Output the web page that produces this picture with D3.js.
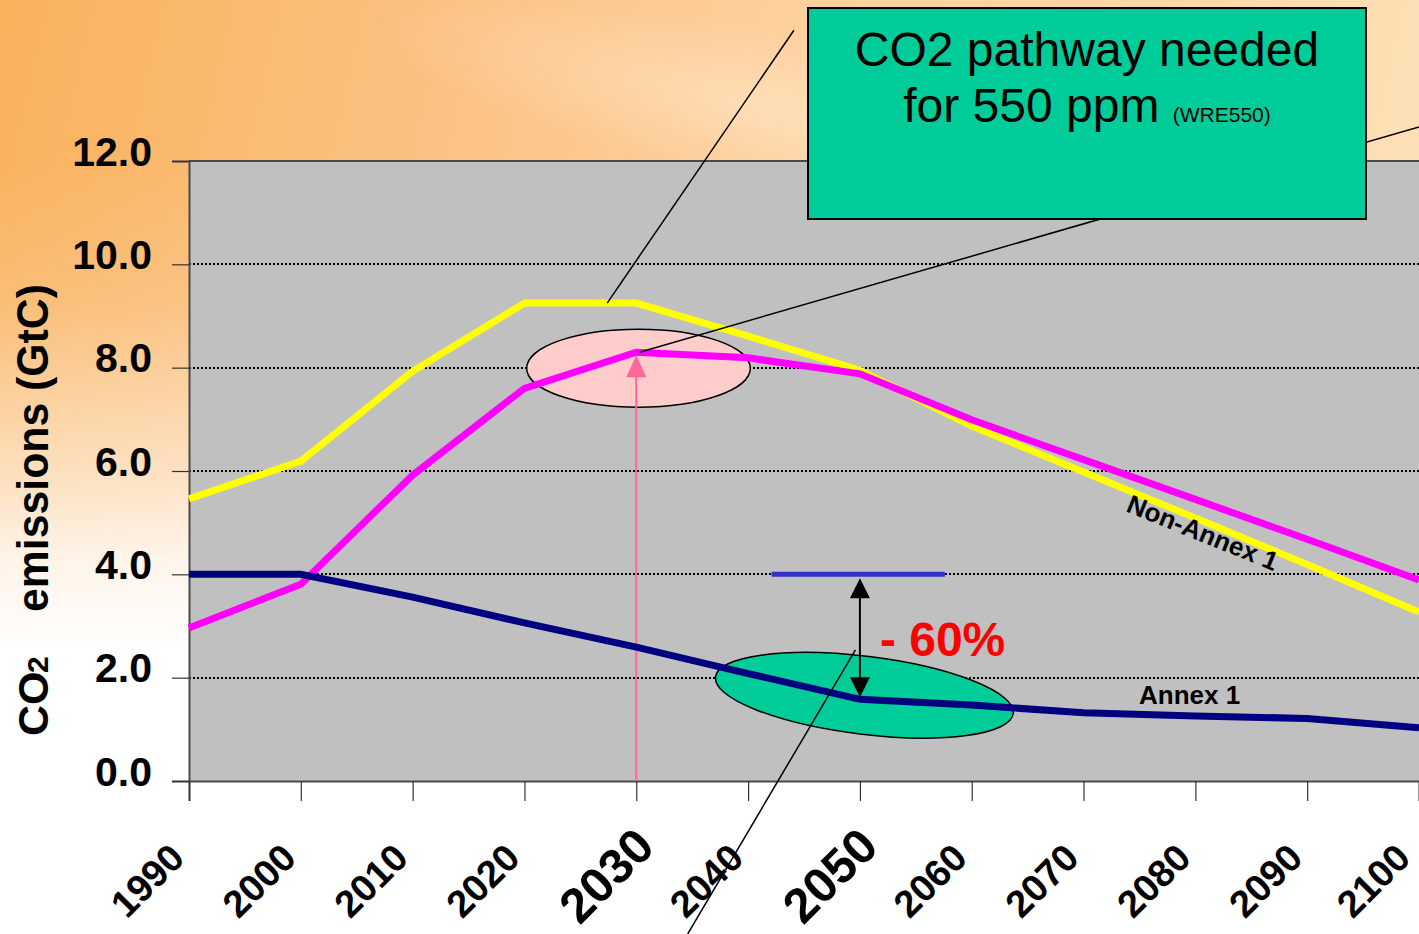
<!DOCTYPE html>
<html>
<head>
<meta charset="utf-8">
<script src="https://cdn.jsdelivr.net/npm/d3@7"></script>
<style>
  html, body { margin: 0; padding: 0; background: #ffffff; }
  svg { display: block; font-family: "Liberation Sans", Arial, sans-serif; }
</style>
</head>
<body>
<svg id="chart" width="1419" height="934"></svg>
<script>
// Years on the horizontal axis
const years = [1990, 2000, 2010, 2020, 2030, 2040, 2050, 2060, 2070, 2080, 2090, 2100];
// Tick labels drawn larger on the x axis
const bigYears = [2030, 2050];
// Vertical axis ticks (GtC)
const yTicks = [0, 2, 4, 6, 8, 10, 12];

// WRE550 non-Annex 1 allowance (yellow)
const wreNonAnnex1 = [5.46, 6.19, 7.93, 9.25, 9.25, 8.61, 7.95, 6.87, 5.98, 5.09, 4.19, 3.27];
// Non-Annex 1 emissions (magenta)
const nonAnnex1 = [2.96, 3.81, 5.92, 7.60, 8.30, 8.19, 7.88, 6.99, 6.22, 5.45, 4.68, 3.89];
// Annex 1 emissions (navy)
const annex1 = [4.00, 4.00, 3.56, 3.06, 2.59, 2.08, 1.58, 1.47, 1.32, 1.26, 1.21, 1.03];

// 1990 Annex 1 reference level and the span it is drawn over
const refLevel = 4.0;
const refSpan = [2042.1, 2057.6];
const reductionYear = 2050;
const peakYear = 2030;

const svg = d3.select("#chart");
const W = 1419, H = 934;
const plotL = 189, plotR = 1419, plotT = 161, plotB = 781;

const x = d3.scaleLinear().domain([1990, 2100]).range([plotL, plotR]);
const y = d3.scaleLinear().domain([0, 12]).range([plotB, plotT]);

// ---- background wash ----
const defs = svg.append("defs");
const hg = defs.append("linearGradient").attr("id", "warm").attr("x1", 0).attr("x2", 1).attr("y1", 0).attr("y2", 0.15);
[[0, "#f9b25c"], [0.3, "#fbc080"], [0.55, "#fdd09c"], [0.8, "#fdd7a8"], [1, "#fde0b6"]]
  .forEach(([o, c]) => hg.append("stop").attr("offset", o).attr("stop-color", c));
const vg = defs.append("linearGradient").attr("id", "fade").attr("x1", 0).attr("x2", 0).attr("y1", 0).attr("y2", 1);
[[0, 0], [0.18, 0], [0.32, 0.12], [0.43, 0.38], [0.52, 0.6], [0.6, 0.85], [0.7, 1], [1, 1]]
  .forEach(([o, a]) => vg.append("stop").attr("offset", o).attr("stop-color", "#ffffff").attr("stop-opacity", a));
const haze = defs.append("radialGradient").attr("id", "haze").attr("cx", 0.5).attr("cy", 0.5).attr("r", 0.5);
haze.append("stop").attr("offset", 0).attr("stop-color", "#fff2e0").attr("stop-opacity", 0.4);
haze.append("stop").attr("offset", 1).attr("stop-color", "#fff2e0").attr("stop-opacity", 0);

svg.append("rect").attr("width", W).attr("height", H).attr("fill", "url(#warm)");
svg.append("ellipse").attr("cx", 780).attr("cy", 110).attr("rx", 420).attr("ry", 80)
  .attr("transform", "rotate(12,780,110)").attr("fill", "url(#haze)");
svg.append("rect").attr("width", W).attr("height", H).attr("fill", "url(#fade)");

// ---- plot area ----
svg.append("rect").attr("x", plotL).attr("y", plotT).attr("width", plotR - plotL).attr("height", plotB - plotT)
  .attr("fill", "#c0c0c0");

// dotted gridlines
svg.append("g").attr("shape-rendering", "crispEdges")
  .selectAll("line").data(yTicks.filter(v => v > 0 && v < 12)).join("line")
  .attr("x1", plotL).attr("x2", plotR).attr("y1", d => Math.round(y(d))).attr("y2", d => Math.round(y(d)))
  .attr("stroke", "#000").attr("stroke-width", 2).attr("stroke-dasharray", "2,2");

// frame
svg.append("line").attr("x1", plotL).attr("x2", plotR).attr("y1", plotT).attr("y2", plotT)
  .attr("stroke", "#4a4a4a").attr("stroke-width", 2);

// y axis
const yAxis = d3.axisLeft(y).tickValues(yTicks).tickSize(17).tickFormat(d3.format(".1f"));
const gy = svg.append("g").attr("transform", `translate(${plotL},0)`).call(yAxis);
gy.select(".domain").attr("stroke", "#4a4a4a").attr("stroke-width", 2);
gy.selectAll(".tick line").attr("stroke", "#333").attr("stroke-width", 1.2);
gy.selectAll(".tick text").attr("x", -37).attr("dy", null).attr("y", 4)
  .attr("font-size", 41).attr("font-weight", "bold").attr("fill", "#000")
  .attr("font-family", "Liberation Sans, Arial, sans-serif");

// x axis
const xAxis = d3.axisBottom(x).tickValues(years).tickSize(20).tickFormat(d3.format("d"));
const gx = svg.append("g").attr("transform", `translate(0,${plotB})`).call(xAxis);
gx.select(".domain").attr("stroke", "#4a4a4a").attr("stroke-width", 2);
gx.selectAll(".tick line").attr("stroke", "#333").attr("stroke-width", 1.2);
const lastYear = years[years.length - 1];
gx.selectAll(".tick text")
  .attr("font-family", "Liberation Sans, Arial, sans-serif")
  .attr("font-weight", "bold").attr("fill", "#000")
  .attr("font-size", d => bigYears.includes(d) ? 49 : 38)
  .attr("text-anchor", "end").attr("dy", null)
  .attr("y", 0)
  .attr("transform", d => bigYears.includes(d)
    ? "translate(20,68) rotate(-45)"
    : `translate(${d === lastYear ? -7 : -3},79) rotate(-45)`);

// y axis title
const yt = svg.append("g").attr("transform", "translate(48,0) rotate(-90)")
  .attr("font-weight", "bold").attr("fill", "#000");
yt.append("text").attr("x", -736).attr("y", 0).attr("font-size", 43).text("CO");
yt.append("text").attr("x", -673).attr("y", 0).attr("font-size", 30).text("2");
yt.append("text").attr("x", -612).attr("y", 0).attr("font-size", 44)
  .attr("textLength", 328).attr("lengthAdjust", "spacingAndGlyphs").text("emissions (GtC)");

// ---- annotation shapes under the lines ----
// highlight of the non-Annex 1 peak
svg.append("ellipse").attr("cx", x(peakYear + 0.2)).attr("cy", y(7.99))
  .attr("rx", x(2000) - x(1990)).attr("ry", 39)
  .attr("fill", "#ffcccc").attr("stroke", "#000").attr("stroke-width", 1.5);

// highlight of the 2050 Annex 1 level
const gcx = x(2050.4), gcy = y(1.66);
svg.append("ellipse").attr("cx", gcx).attr("cy", gcy).attr("rx", 150).attr("ry", 39)
  .attr("transform", `rotate(7,${gcx},${gcy})`)
  .attr("fill", "#00cc99").attr("stroke", "#000").attr("stroke-width", 1.5);

// vertical pointer to the 2030 peak
const peakY = y(nonAnnex1[years.indexOf(peakYear)]);
svg.append("line").attr("x1", x(peakYear)).attr("x2", x(peakYear))
  .attr("y1", y(0)).attr("y2", peakY + 22)
  .attr("stroke", "#ff6699").attr("stroke-width", 2);
svg.append("path")
  .attr("d", `M${x(peakYear)},${peakY + 3} L${x(peakYear) - 10},${peakY + 25} L${x(peakYear) + 10},${peakY + 25} Z`)
  .attr("fill", "#ff6699");

// ---- emission series ----
const line = d3.line().x((d, i) => x(years[i])).y(d => y(d));
const series = [
  { data: wreNonAnnex1, color: "#ffff00" },
  { data: nonAnnex1, color: "#ff00ff" },
  { data: annex1, color: "#000080" }
];
svg.append("g").selectAll("path").data(series).join("path")
  .attr("d", d => line(d.data))
  .attr("fill", "none").attr("stroke", d => d.color).attr("stroke-width", 7)
  .attr("stroke-linejoin", "miter");

// 1990 reference level
svg.append("line").attr("x1", x(refSpan[0])).attr("x2", x(refSpan[1]))
  .attr("y1", y(refLevel)).attr("y2", y(refLevel))
  .attr("stroke", "#3333cc").attr("stroke-width", 5);

// double-headed arrow for the 2050 reduction
const ax = x(reductionYear);
const aTop = y(refLevel) + 4, aBot = y(annex1[years.indexOf(reductionYear)]) - 2;
svg.append("line").attr("x1", ax).attr("x2", ax).attr("y1", aTop + 18).attr("y2", aBot - 18)
  .attr("stroke", "#000").attr("stroke-width", 2);
svg.append("path").attr("d", `M${ax},${aTop} L${ax - 10},${aTop + 20} L${ax + 10},${aTop + 20} Z`).attr("fill", "#000");
svg.append("path").attr("d", `M${ax},${aBot} L${ax - 10},${aBot - 20} L${ax + 10},${aBot - 20} Z`).attr("fill", "#000");

// reduction percentage
const pct = Math.round((annex1[years.indexOf(reductionYear)] / refLevel - 1) * 100);
svg.append("text").attr("x", ax + 20).attr("y", 656)
  .attr("font-size", 48).attr("font-weight", "bold").attr("fill", "#ff0000")
  .text(`- ${Math.abs(pct)}%`);

// series labels
svg.append("text").attr("x", 1139).attr("y", 704)
  .attr("font-size", 26).attr("font-weight", "bold").attr("fill", "#000").text("Annex 1");
svg.append("text").attr("transform", "translate(1125,511) rotate(22)")
  .attr("font-size", 26).attr("font-weight", "bold").attr("fill", "#000").text("Non-Annex 1");

// ---- callout leader lines ----
const leader = [
  [[2044.1, 14.53], [2027.4, wreNonAnnex1[years.indexOf(2030)]]],
  [[2100, 12.66], [2030.3, nonAnnex1[years.indexOf(2030)]]],
  [[2049.6, 2.54], [2034.6, -2.96]]
];
svg.append("g").selectAll("line").data(leader).join("line")
  .attr("x1", d => x(d[0][0])).attr("y1", d => y(d[0][1]))
  .attr("x2", d => x(d[1][0])).attr("y2", d => y(d[1][1]))
  .attr("stroke", "#000").attr("stroke-width", 1.5);

// ---- title box ----
svg.append("rect").attr("x", 808).attr("y", 8).attr("width", 558).attr("height", 211)
  .attr("fill", "#00cc99").attr("stroke", "#000").attr("stroke-width", 2);
svg.append("text").attr("x", 1087).attr("y", 66).attr("text-anchor", "middle")
  .attr("font-size", 48).attr("fill", "#000").text("CO2 pathway needed");
const t2 = svg.append("text").attr("x", 1087).attr("y", 122).attr("text-anchor", "middle").attr("fill", "#000");
t2.append("tspan").attr("font-size", 48).text("for 550 ppm ");
t2.append("tspan").attr("font-size", 21).text("(WRE550)");
</script>
</body>
</html>
